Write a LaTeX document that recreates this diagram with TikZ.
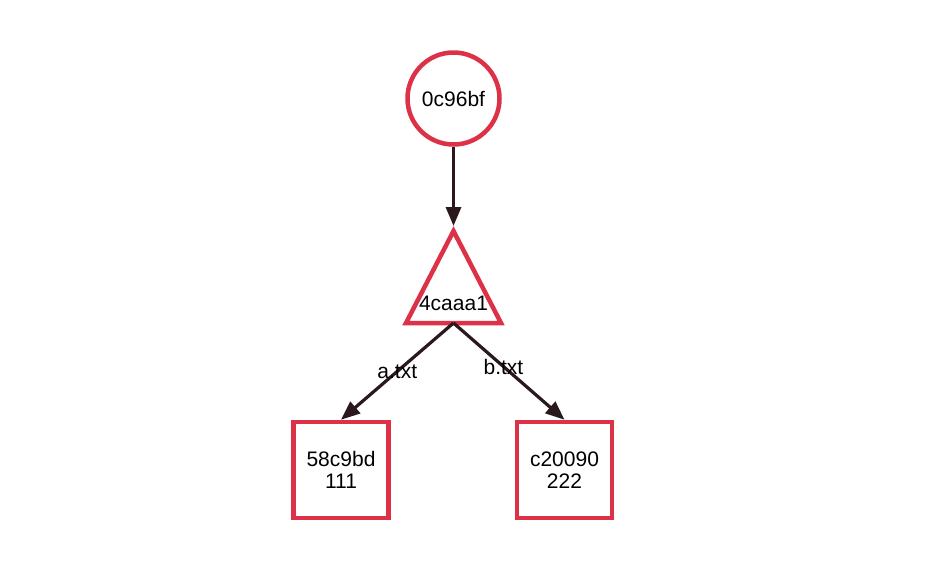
\documentclass[tikz,border=0pt]{standalone}
\usepackage{fontspec}
\setmainfont{Liberation Sans}
\usepackage{tikz}
\usetikzlibrary{arrows.meta}
\definecolor{objred}{RGB}{221,49,72}
\definecolor{refdark}{RGB}{42,24,28}
\tikzset{
  obj/.style={draw=objred, line width=4.5pt, font=\fontsize{21}{22}\selectfont, align=center, inner sep=0pt},
  commitobj/.style={obj, circle, minimum size=92pt},
  blobobj/.style={obj, rectangle, minimum width=95pt, minimum height=96pt},
  ref/.style={draw=refdark, line width=3.2pt, -{Triangle[length=19pt,width=15pt]}},
  reflabel/.style={font=\fontsize{21}{22}\selectfont, text=black}
}
\begin{document}
\begin{tikzpicture}[x=1pt,y=-1pt]
\useasboundingbox (0,0) rectangle (949,568);

\node[commitobj] (commit) at (453.5,98.5) {0c96bf};

\coordinate (treetop) at (453.5,231);
\coordinate (treeleft) at (406,323);
\coordinate (treeright) at (501,323);
\coordinate (treebase) at (453.5,323);
\draw[draw=objred, line width=4.5pt] (treetop) -- (treeright) -- (treeleft) -- cycle;
\node[reflabel] (tree) at (453.5,303) {4caaa1};

\node[blobobj] (bloba) at (341,470) {58c9bd\\111};
\node[blobobj] (blobb) at (564.5,470) {c20090\\222};

\draw[ref, shorten >=5pt] (commit) -- (treetop);
\draw[ref] (treebase) -- (bloba.north) node[reflabel, midway] (namea) {a.txt};
\draw[ref] (treebase) -- (blobb.north) node[reflabel, pos=.45] (nameb) {b.txt};
\end{tikzpicture}
\end{document}
